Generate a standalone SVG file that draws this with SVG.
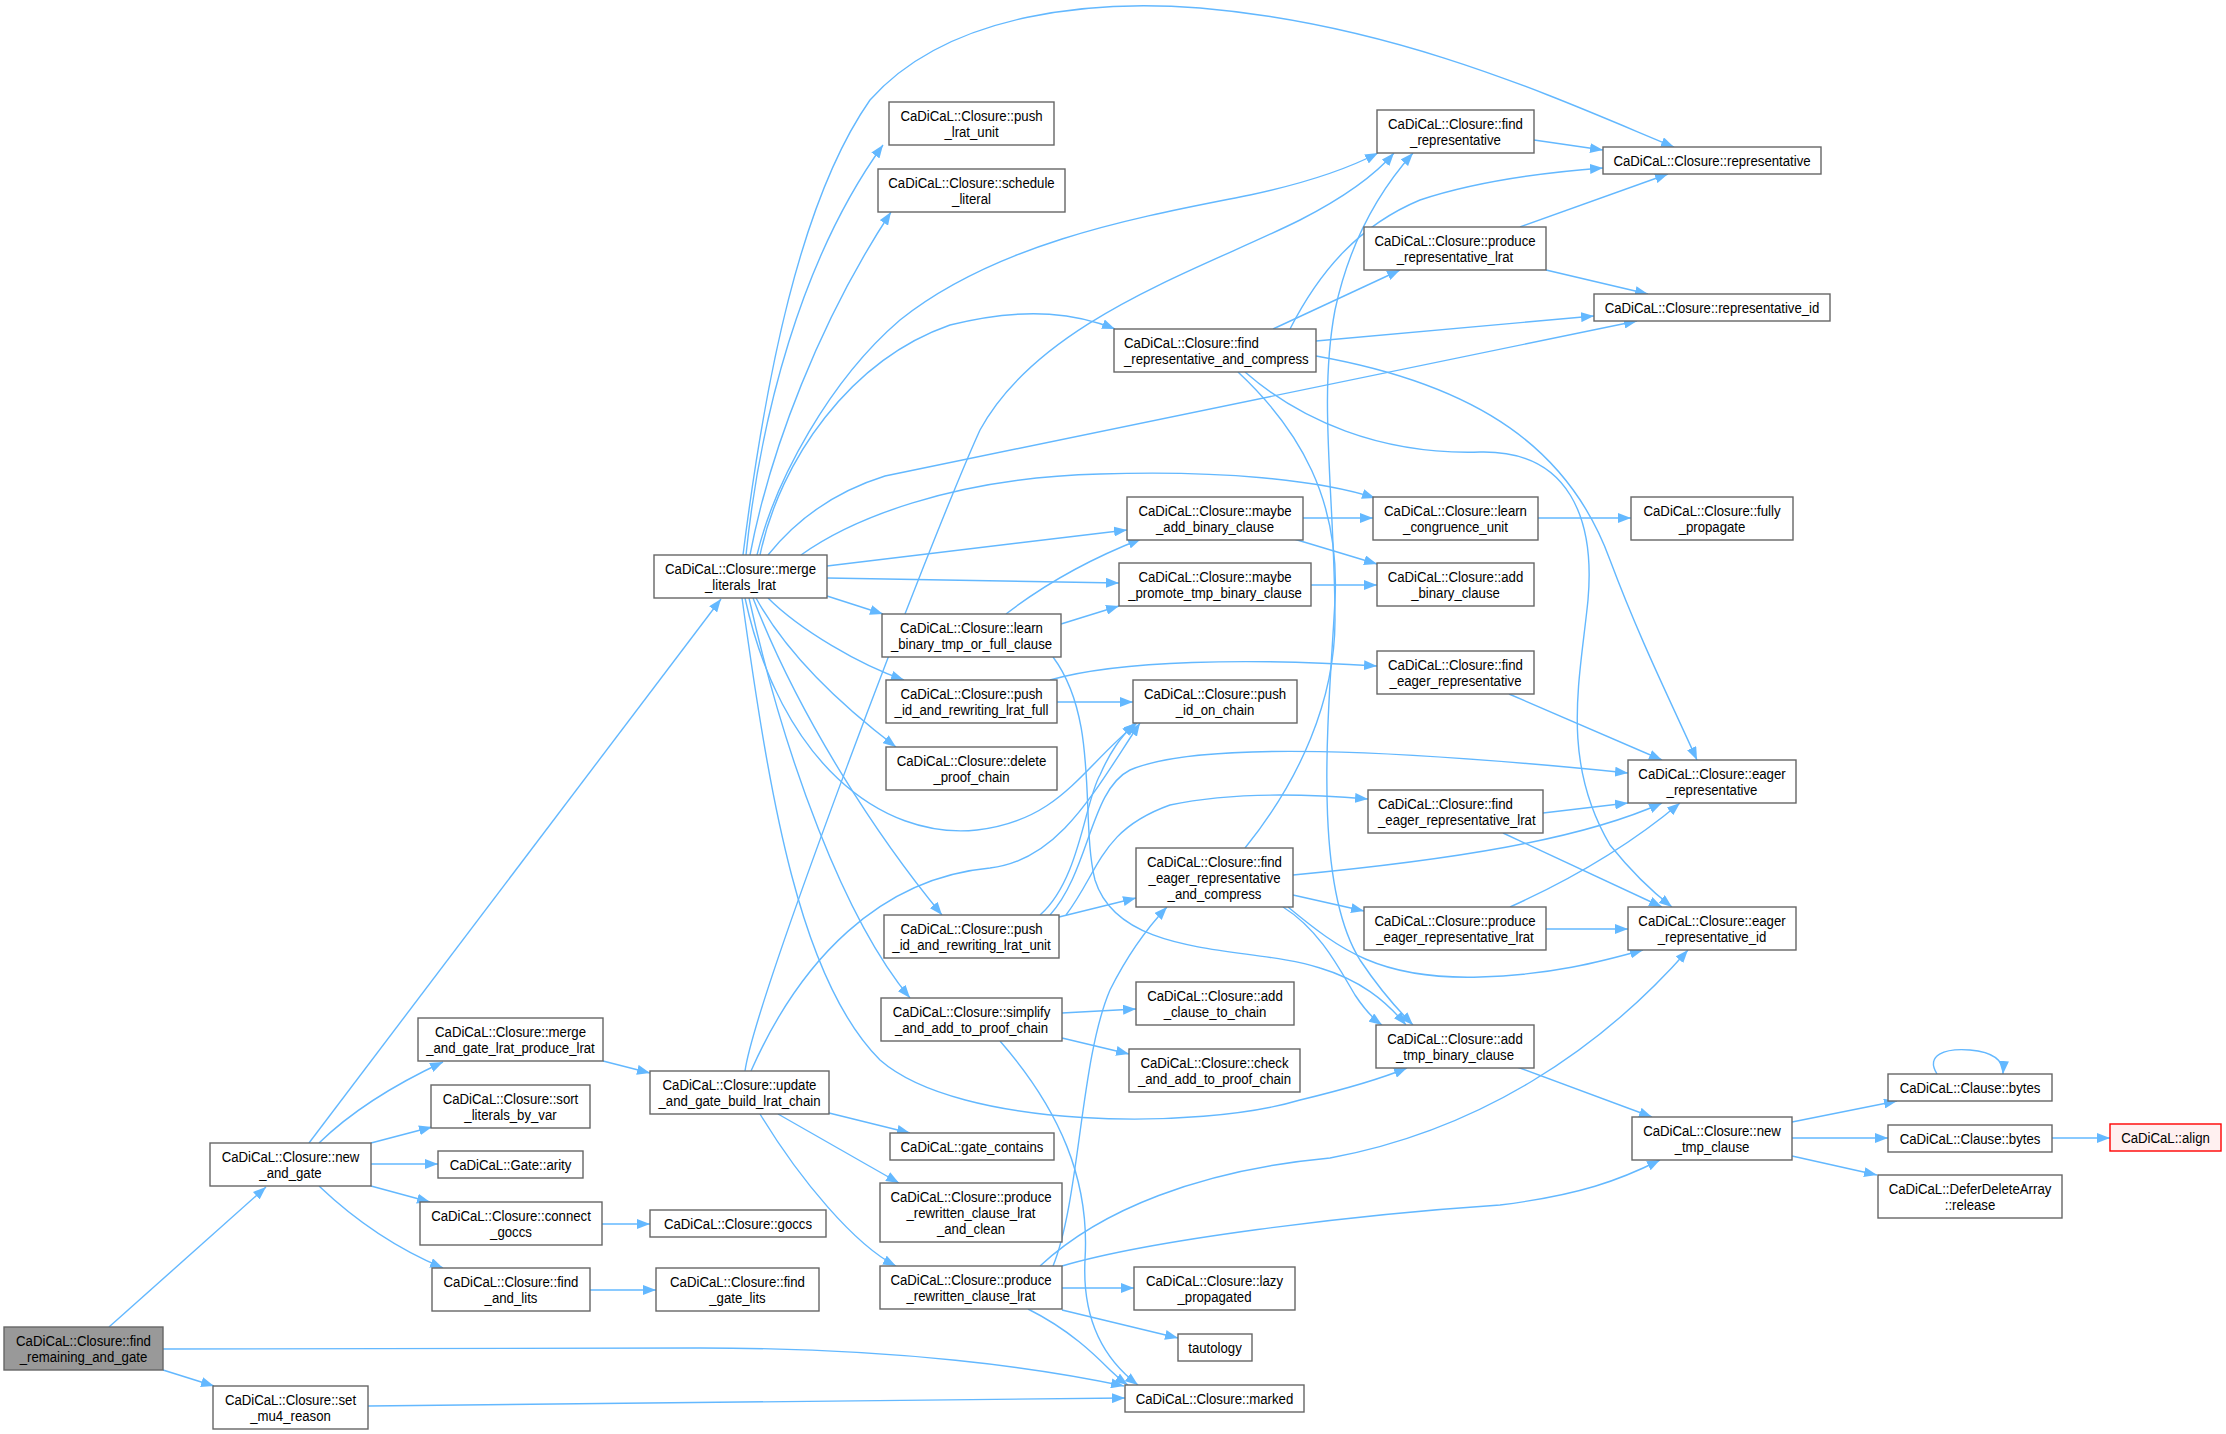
<svg xmlns="http://www.w3.org/2000/svg" width="2226" height="1434" viewBox="0 0 2226 1434">
<defs>
<marker id="arr" markerUnits="userSpaceOnUse" markerWidth="14" markerHeight="10" refX="13" refY="5" orient="auto"><path d="M0,0 L13,5 L0,10 z" fill="#63b8ff"/></marker>
<style>
.node rect{fill:#ffffff;stroke:#666666;stroke-width:1.4}
.node text{font-family:"Liberation Sans",Arial,sans-serif;font-size:15px;fill:#000000;text-anchor:middle}
.node text.l{text-anchor:start}
#n0 rect{fill:#999999}
#n48 rect{fill:#fff0f0;stroke:#ff0000}
.edges path{fill:none;stroke:#63b8ff;stroke-width:1.4;marker-end:url(#arr)}
</style>
</defs>
<rect x="0" y="0" width="2226" height="1434" fill="#ffffff"/>
<g class="edges">
<path d="M109,1327 L266,1187"/>
<path d="M163,1349 L700,1348 C900,1348 1040,1368 1124,1386"/>
<path d="M163,1370 L214,1386"/>
<path d="M368,1406 C700,1403 950,1400 1125,1398"/>
<path d="M309,1143 L721,599"/>
<path d="M319,1143 C355,1108 400,1082 443,1062"/>
<path d="M371,1143 L432,1127"/>
<path d="M371,1164 L438,1164"/>
<path d="M371,1186 L430,1202"/>
<path d="M319,1186 C360,1225 400,1250 443,1268"/>
<path d="M603,1061 L650,1073"/>
<path d="M602,1224 L650,1224"/>
<path d="M590,1290 L656,1290"/>
<path d="M829,1113 L910,1133"/>
<path d="M778,1114 L899,1183"/>
<path d="M760,1114 C800,1180 855,1245 896,1266"/>
<path d="M751,1071 C800,960 880,878 990,868 C1060,860 1095,790 1140,723"/>
<path d="M745,1071 C755,1000 930,540 980,430 C1040,320 1200,270 1300,220 C1345,197 1375,175 1394,153"/>
<path d="M743,555 C765,380 800,200 870,100 C950,10 1100,0 1200,8 C1400,25 1560,100 1674,147"/>
<path d="M746,555 C760,420 800,260 883,145"/>
<path d="M750,555 C770,450 820,320 891,212"/>
<path d="M757,555 C775,480 830,380 900,320 C1000,240 1150,215 1250,195 C1320,180 1355,165 1378,153"/>
<path d="M760,555 C780,460 850,360 950,325 C1030,305 1080,315 1115,329"/>
<path d="M768,555 C800,515 840,490 885,476 L1637,321"/>
<path d="M801,555 C850,520 950,478 1100,474 C1220,470 1320,480 1375,498"/>
<path d="M827,566 L1127,530"/>
<path d="M827,578 L1119,583"/>
<path d="M827,596 L883,614"/>
<path d="M768,598 C800,630 860,665 904,680"/>
<path d="M756,598 C790,660 850,712 896,747"/>
<path d="M745,598 C780,760 880,840 977,830 C1060,820 1080,770 1137,723"/>
<path d="M753,598 C800,720 880,840 942,915"/>
<path d="M749,598 C785,760 845,920 910,998"/>
<path d="M742,598 C770,800 800,980 880,1060 C960,1130 1200,1130 1300,1100 C1350,1088 1390,1075 1407,1068"/>
<path d="M1006,614 C1050,580 1100,555 1141,539"/>
<path d="M1061,624 L1119,606"/>
<path d="M1053,657 C1100,720 1080,820 1095,880 C1120,960 1250,945 1320,968 C1360,980 1385,1000 1406,1025"/>
<path d="M1057,702 L1133,702"/>
<path d="M1050,680 C1120,660 1250,658 1377,666"/>
<path d="M1040,915 C1080,880 1085,800 1100,775 C1110,752 1120,738 1135,723"/>
<path d="M1050,915 C1090,870 1090,790 1130,770 C1200,740 1400,750 1628,773"/>
<path d="M1066,915 C1100,870 1100,830 1170,805 C1240,790 1320,795 1368,799"/>
<path d="M1059,917 L1136,898"/>
<path d="M1290,329 C1320,270 1360,225 1420,200 C1480,180 1550,172 1603,168"/>
<path d="M1273,329 L1400,270"/>
<path d="M1316,341 L1594,316"/>
<path d="M1316,356 C1480,385 1570,450 1610,560 C1640,640 1670,700 1697,760"/>
<path d="M1245,372 C1300,420 1380,455 1480,452 C1570,450 1595,520 1588,600 C1580,680 1560,760 1610,845 C1630,870 1650,890 1672,907"/>
<path d="M1238,372 C1300,430 1340,500 1335,600 C1330,700 1310,880 1360,960 C1380,990 1398,1010 1413,1025"/>
<path d="M1245,848 C1300,780 1335,700 1335,620 C1335,500 1318,400 1335,310 C1350,240 1380,190 1413,153"/>
<path d="M1293,875 C1450,860 1580,840 1662,803"/>
<path d="M1293,895 L1364,911"/>
<path d="M1288,907 C1340,950 1380,980 1480,977 C1550,975 1600,962 1643,950"/>
<path d="M1283,907 C1320,930 1340,970 1355,995 C1365,1010 1372,1018 1382,1025"/>
<path d="M1534,140 L1603,150"/>
<path d="M1520,227 L1668,174"/>
<path d="M1546,270 L1648,294"/>
<path d="M1303,518 L1373,518"/>
<path d="M1294,539 L1377,564"/>
<path d="M1311,585 L1377,585"/>
<path d="M1538,518 L1631,518"/>
<path d="M1509,694 L1662,760"/>
<path d="M1543,813 L1628,803"/>
<path d="M1503,833 L1662,907"/>
<path d="M1510,907 C1570,880 1630,845 1680,803"/>
<path d="M1546,929 L1628,929"/>
<path d="M1517,1067 L1652,1117"/>
<path d="M1062,1288 L1134,1288"/>
<path d="M1062,1310 L1178,1338"/>
<path d="M1028,1309 C1070,1330 1095,1355 1110,1370 C1116,1376 1122,1381 1128,1385"/>
<path d="M1053,1266 C1080,1200 1080,1060 1110,990 C1130,950 1150,925 1167,907"/>
<path d="M1040,1266 C1100,1210 1200,1170 1330,1158 C1480,1130 1600,1050 1688,950"/>
<path d="M1062,1266 C1150,1240 1350,1215 1500,1205 C1580,1195 1620,1180 1660,1160"/>
<path d="M1062,1013 L1136,1009"/>
<path d="M1062,1038 L1129,1054"/>
<path d="M1000,1041 C1060,1110 1090,1180 1085,1260 C1082,1320 1105,1360 1138,1385"/>
<path d="M1792,1122 L1897,1101"/>
<path d="M1792,1138 L1888,1138"/>
<path d="M1792,1156 L1877,1175"/>
<path d="M2052,1138 L2110,1138"/>
<path d="M1937,1074 C1925,1055 1945,1048 1970,1050 C1992,1052 2004,1060 2003,1074"/>
</g>
<g id="n0" class="node"><rect x="4" y="1327" width="159" height="43"/><g transform="translate(83.5 0) scale(0.88 1)"><text x="0" y="1346">CaDiCaL::Closure::find</text><text x="0" y="1362">_remaining_and_gate</text></g></g>
<g id="n1" class="node"><rect x="210" y="1143" width="161" height="43"/><g transform="translate(290.5 0) scale(0.88 1)"><text x="0" y="1162">CaDiCaL::Closure::new</text><text x="0" y="1178">_and_gate</text></g></g>
<g id="n2" class="node"><rect x="654" y="555" width="173" height="43"/><g transform="translate(740.5 0) scale(0.88 1)"><text x="0" y="574">CaDiCaL::Closure::merge</text><text x="0" y="590">_literals_lrat</text></g></g>
<g id="n3" class="node"><rect x="418" y="1018" width="185" height="43"/><g transform="translate(510.5 0) scale(0.88 1)"><text x="0" y="1037">CaDiCaL::Closure::merge</text><text x="0" y="1053">_and_gate_lrat_produce_lrat</text></g></g>
<g id="n4" class="node"><rect x="431" y="1085" width="159" height="43"/><g transform="translate(510.5 0) scale(0.88 1)"><text x="0" y="1104">CaDiCaL::Closure::sort</text><text x="0" y="1120">_literals_by_var</text></g></g>
<g id="n5" class="node"><rect x="438" y="1151" width="145" height="27"/><g transform="translate(510.5 0) scale(0.88 1)"><text x="0" y="1170">CaDiCaL::Gate::arity</text></g></g>
<g id="n6" class="node"><rect x="420" y="1202" width="182" height="43"/><g transform="translate(511 0) scale(0.88 1)"><text x="0" y="1221">CaDiCaL::Closure::connect</text><text x="0" y="1237">_goccs</text></g></g>
<g id="n7" class="node"><rect x="432" y="1268" width="158" height="43"/><g transform="translate(511 0) scale(0.88 1)"><text x="0" y="1287">CaDiCaL::Closure::find</text><text x="0" y="1303">_and_lits</text></g></g>
<g id="n8" class="node"><rect x="213" y="1386" width="155" height="43"/><g transform="translate(290.5 0) scale(0.88 1)"><text x="0" y="1405">CaDiCaL::Closure::set</text><text x="0" y="1421">_mu4_reason</text></g></g>
<g id="n9" class="node"><rect x="650" y="1071" width="179" height="43"/><g transform="translate(739.5 0) scale(0.88 1)"><text x="0" y="1090">CaDiCaL::Closure::update</text><text x="0" y="1106">_and_gate_build_lrat_chain</text></g></g>
<g id="n10" class="node"><rect x="650" y="1210" width="176" height="27"/><g transform="translate(738 0) scale(0.88 1)"><text x="0" y="1229">CaDiCaL::Closure::goccs</text></g></g>
<g id="n11" class="node"><rect x="656" y="1268" width="163" height="43"/><g transform="translate(737.5 0) scale(0.88 1)"><text x="0" y="1287">CaDiCaL::Closure::find</text><text x="0" y="1303">_gate_lits</text></g></g>
<g id="n12" class="node"><rect x="889" y="102" width="165" height="43"/><g transform="translate(971.5 0) scale(0.88 1)"><text x="0" y="121">CaDiCaL::Closure::push</text><text x="0" y="137">_lrat_unit</text></g></g>
<g id="n13" class="node"><rect x="878" y="169" width="187" height="43"/><g transform="translate(971.5 0) scale(0.88 1)"><text x="0" y="188">CaDiCaL::Closure::schedule</text><text x="0" y="204">_literal</text></g></g>
<g id="n14" class="node"><rect x="882" y="614" width="179" height="43"/><g transform="translate(971.5 0) scale(0.88 1)"><text x="0" y="633">CaDiCaL::Closure::learn</text><text x="0" y="649">_binary_tmp_or_full_clause</text></g></g>
<g id="n15" class="node"><rect x="886" y="680" width="171" height="43"/><g transform="translate(971.5 0) scale(0.88 1)"><text x="0" y="699">CaDiCaL::Closure::push</text><text x="0" y="715">_id_and_rewriting_lrat_full</text></g></g>
<g id="n16" class="node"><rect x="886" y="747" width="171" height="43"/><g transform="translate(971.5 0) scale(0.88 1)"><text x="0" y="766">CaDiCaL::Closure::delete</text><text x="0" y="782">_proof_chain</text></g></g>
<g id="n17" class="node"><rect x="884" y="915" width="175" height="43"/><g transform="translate(971.5 0) scale(0.88 1)"><text x="0" y="934">CaDiCaL::Closure::push</text><text x="0" y="950">_id_and_rewriting_lrat_unit</text></g></g>
<g id="n18" class="node"><rect x="881" y="998" width="181" height="43"/><g transform="translate(971.5 0) scale(0.88 1)"><text x="0" y="1017">CaDiCaL::Closure::simplify</text><text x="0" y="1033">_and_add_to_proof_chain</text></g></g>
<g id="n19" class="node"><rect x="890" y="1133" width="164" height="27"/><g transform="translate(972 0) scale(0.88 1)"><text x="0" y="1152">CaDiCaL::gate_contains</text></g></g>
<g id="n20" class="node"><rect x="880" y="1183" width="182" height="59"/><g transform="translate(971 0) scale(0.88 1)"><text x="0" y="1202">CaDiCaL::Closure::produce</text><text x="0" y="1218">_rewritten_clause_lrat</text><text x="0" y="1234">_and_clean</text></g></g>
<g id="n21" class="node"><rect x="880" y="1266" width="182" height="43"/><g transform="translate(971 0) scale(0.88 1)"><text x="0" y="1285">CaDiCaL::Closure::produce</text><text x="0" y="1301">_rewritten_clause_lrat</text></g></g>
<g id="n22" class="node"><rect x="1114" y="329" width="202" height="43"/><g transform="translate(1124 0) scale(0.88 1)"><text class="l" x="0" y="348">CaDiCaL::Closure::find</text><text class="l" x="0" y="364">_representative_and_compress</text></g></g>
<g id="n23" class="node"><rect x="1127" y="497" width="176" height="43"/><g transform="translate(1215 0) scale(0.88 1)"><text x="0" y="516">CaDiCaL::Closure::maybe</text><text x="0" y="532">_add_binary_clause</text></g></g>
<g id="n24" class="node"><rect x="1119" y="563" width="192" height="43"/><g transform="translate(1215 0) scale(0.88 1)"><text x="0" y="582">CaDiCaL::Closure::maybe</text><text x="0" y="598">_promote_tmp_binary_clause</text></g></g>
<g id="n25" class="node"><rect x="1133" y="680" width="164" height="43"/><g transform="translate(1215 0) scale(0.88 1)"><text x="0" y="699">CaDiCaL::Closure::push</text><text x="0" y="715">_id_on_chain</text></g></g>
<g id="n26" class="node"><rect x="1136" y="848" width="157" height="59"/><g transform="translate(1214.5 0) scale(0.88 1)"><text x="0" y="867">CaDiCaL::Closure::find</text><text x="0" y="883">_eager_representative</text><text x="0" y="899">_and_compress</text></g></g>
<g id="n27" class="node"><rect x="1136" y="982" width="158" height="43"/><g transform="translate(1215 0) scale(0.88 1)"><text x="0" y="1001">CaDiCaL::Closure::add</text><text x="0" y="1017">_clause_to_chain</text></g></g>
<g id="n28" class="node"><rect x="1129" y="1049" width="171" height="43"/><g transform="translate(1214.5 0) scale(0.88 1)"><text x="0" y="1068">CaDiCaL::Closure::check</text><text x="0" y="1084">_and_add_to_proof_chain</text></g></g>
<g id="n29" class="node"><rect x="1134" y="1267" width="161" height="43"/><g transform="translate(1214.5 0) scale(0.88 1)"><text x="0" y="1286">CaDiCaL::Closure::lazy</text><text x="0" y="1302">_propagated</text></g></g>
<g id="n30" class="node"><rect x="1178" y="1334" width="74" height="27"/><g transform="translate(1215 0) scale(0.88 1)"><text x="0" y="1353">tautology</text></g></g>
<g id="n31" class="node"><rect x="1125" y="1385" width="179" height="27"/><g transform="translate(1214.5 0) scale(0.88 1)"><text x="0" y="1404">CaDiCaL::Closure::marked</text></g></g>
<g id="n32" class="node"><rect x="1377" y="110" width="157" height="43"/><g transform="translate(1455.5 0) scale(0.88 1)"><text x="0" y="129">CaDiCaL::Closure::find</text><text x="0" y="145">_representative</text></g></g>
<g id="n33" class="node"><rect x="1364" y="227" width="182" height="43"/><g transform="translate(1455 0) scale(0.88 1)"><text x="0" y="246">CaDiCaL::Closure::produce</text><text x="0" y="262">_representative_lrat</text></g></g>
<g id="n34" class="node"><rect x="1373" y="497" width="165" height="43"/><g transform="translate(1455.5 0) scale(0.88 1)"><text x="0" y="516">CaDiCaL::Closure::learn</text><text x="0" y="532">_congruence_unit</text></g></g>
<g id="n35" class="node"><rect x="1377" y="563" width="157" height="43"/><g transform="translate(1455.5 0) scale(0.88 1)"><text x="0" y="582">CaDiCaL::Closure::add</text><text x="0" y="598">_binary_clause</text></g></g>
<g id="n36" class="node"><rect x="1377" y="651" width="157" height="43"/><g transform="translate(1455.5 0) scale(0.88 1)"><text x="0" y="670">CaDiCaL::Closure::find</text><text x="0" y="686">_eager_representative</text></g></g>
<g id="n37" class="node"><rect x="1368" y="790" width="175" height="43"/><g transform="translate(1378 0) scale(0.88 1)"><text class="l" x="0" y="809">CaDiCaL::Closure::find</text><text class="l" x="0" y="825">_eager_representative_lrat</text></g></g>
<g id="n38" class="node"><rect x="1364" y="907" width="182" height="43"/><g transform="translate(1455 0) scale(0.88 1)"><text x="0" y="926">CaDiCaL::Closure::produce</text><text x="0" y="942">_eager_representative_lrat</text></g></g>
<g id="n39" class="node"><rect x="1376" y="1025" width="158" height="43"/><g transform="translate(1455 0) scale(0.88 1)"><text x="0" y="1044">CaDiCaL::Closure::add</text><text x="0" y="1060">_tmp_binary_clause</text></g></g>
<g id="n40" class="node"><rect x="1603" y="147" width="218" height="27"/><g transform="translate(1712 0) scale(0.88 1)"><text x="0" y="166">CaDiCaL::Closure::representative</text></g></g>
<g id="n41" class="node"><rect x="1594" y="294" width="236" height="27"/><g transform="translate(1712 0) scale(0.88 1)"><text x="0" y="313">CaDiCaL::Closure::representative_id</text></g></g>
<g id="n42" class="node"><rect x="1631" y="497" width="162" height="43"/><g transform="translate(1712 0) scale(0.88 1)"><text x="0" y="516">CaDiCaL::Closure::fully</text><text x="0" y="532">_propagate</text></g></g>
<g id="n43" class="node"><rect x="1628" y="760" width="168" height="43"/><g transform="translate(1712 0) scale(0.88 1)"><text x="0" y="779">CaDiCaL::Closure::eager</text><text x="0" y="795">_representative</text></g></g>
<g id="n44" class="node"><rect x="1628" y="907" width="168" height="43"/><g transform="translate(1712 0) scale(0.88 1)"><text x="0" y="926">CaDiCaL::Closure::eager</text><text x="0" y="942">_representative_id</text></g></g>
<g id="n45" class="node"><rect x="1632" y="1117" width="160" height="43"/><g transform="translate(1712 0) scale(0.88 1)"><text x="0" y="1136">CaDiCaL::Closure::new</text><text x="0" y="1152">_tmp_clause</text></g></g>
<g id="n46" class="node"><rect x="1888" y="1074" width="164" height="27"/><g transform="translate(1970 0) scale(0.88 1)"><text x="0" y="1093">CaDiCaL::Clause::bytes</text></g></g>
<g id="n47" class="node"><rect x="1888" y="1125" width="164" height="27"/><g transform="translate(1970 0) scale(0.88 1)"><text x="0" y="1144">CaDiCaL::Clause::bytes</text></g></g>
<g id="n48" class="node"><rect x="2110" y="1124" width="111" height="27"/><g transform="translate(2165.5 0) scale(0.88 1)"><text x="0" y="1143">CaDiCaL::align</text></g></g>
<g id="n49" class="node"><rect x="1878" y="1175" width="184" height="43"/><g transform="translate(1970 0) scale(0.88 1)"><text x="0" y="1194">CaDiCaL::DeferDeleteArray</text><text x="0" y="1210">::release</text></g></g>
</svg>
